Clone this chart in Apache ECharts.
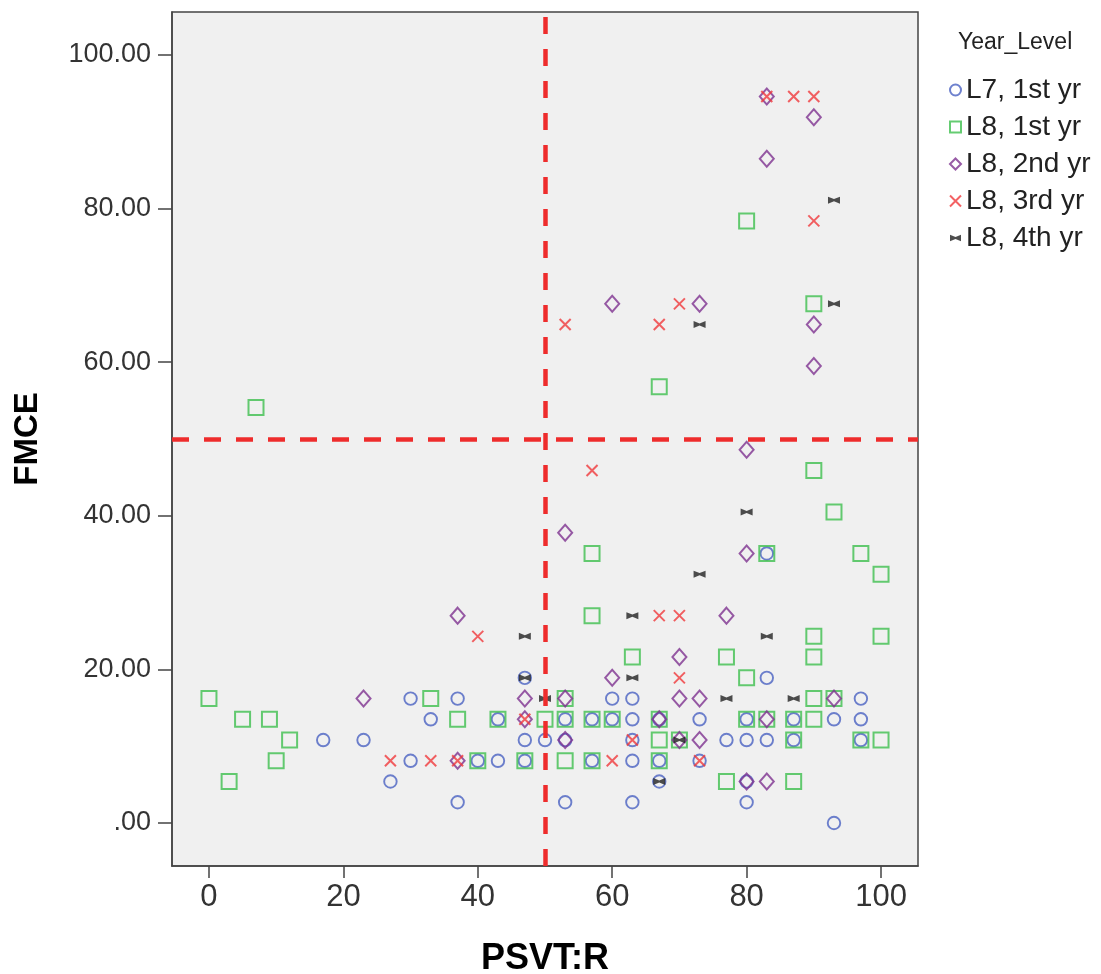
<!DOCTYPE html>
<html>
<head>
<meta charset="utf-8">
<script src="https://cdn.jsdelivr.net/npm/echarts@6/dist/echarts.min.js"></script>
<style>
  html, body { margin: 0; padding: 0; background: #ffffff; }
  #chart { width: 1101px; height: 974px; }
</style>
</head>
<body>
<div id="chart"></div>
<script>
// ---- Data ----
const xTicks = [0, 20, 40, 60, 80, 100];
const yTicks = [0, 20, 40, 60, 80, 100];
const seriesNames = ['L7, 1st yr', 'L8, 1st yr', 'L8, 2nd yr', 'L8, 3rd yr', 'L8, 4th yr'];
const refX = 50;
const refY = 50;

const l7_1st = [[17,10.8],[23,10.8],[27,5.4],[30,16.2],[30,8.1],[33,13.5],[37,16.2],[37,2.7],[40,8.1],
  [43,13.5],[43,8.1],[47,18.9],[47,10.8],[47,8.1],[50,10.8],[53,13.5],[53,10.8],[53,2.7],[57,13.5],[57,8.1],
  [60,16.2],[60,13.5],[63,16.2],[63,13.5],[63,10.8],[63,8.1],[63,2.7],[67,13.5],[67,8.1],[67,5.4],[73,13.5],
  [73,8.1],[77,10.8],[80,13.5],[80,10.8],[80,5.4],[80,2.7],[83,35.1],[83,18.9],[83,10.8],[87,13.5],[87,10.8],
  [93,13.5],[93,0],[97,16.2],[97,13.5],[97,10.8]];

const l8_1st = [[0,16.2],[3,5.4],[5,13.5],[7,54.1],[9,13.5],[10,8.1],[12,10.8],[33,16.2],[37,13.5],[40,8.1],
  [43,13.5],[47,8.1],[50,13.5],[53,16.2],[53,13.5],[53,8.1],[57,35.1],[57,27.0],[57,13.5],[57,8.1],[60,13.5],
  [63,21.6],[67,56.8],[67,13.5],[67,10.8],[67,8.1],[70,10.8],[77,21.6],[77,5.4],[80,78.4],[80,18.9],[80,13.5],
  [83,35.1],[83,13.5],[87,13.5],[87,10.8],[87,5.4],[90,67.6],[90,45.9],[90,24.3],[90,21.6],[90,16.2],[90,13.5],
  [93,40.5],[93,16.2],[97,35.1],[97,10.8],[100,32.4],[100,24.3],[100,10.8]];

const l8_2nd = [[23,16.2],[37,27.0],[37,8.1],[47,16.2],[47,13.5],[53,37.8],[53,16.2],[53,10.8],[60,67.6],
  [60,18.9],[67,13.5],[70,21.6],[70,16.2],[70,10.8],[73,67.6],[73,16.2],[73,10.8],[77,27.0],[80,48.6],[80,35.1],
  [80,5.4],[83,94.6],[83,86.5],[83,13.5],[83,5.4],[90,91.9],[90,64.9],[90,59.5],[93,16.2]];

const l8_3rd = [[27,8.1],[33,8.1],[37,8.1],[40,24.3],[47,13.5],[53,64.9],[57,45.9],[60,8.1],[63,10.8],
  [67,64.9],[67,27.0],[70,67.6],[70,27.0],[70,18.9],[73,8.1],[83,94.6],[87,94.6],[90,94.6],[90,78.4]];

const l8_4th = [[47,24.3],[47,18.9],[50,16.2],[63,27.0],[63,18.9],[67,5.4],[70,10.8],[73,64.9],[73,32.4],
  [77,16.2],[80,40.5],[83,24.3],[87,16.2],[93,81.1],[93,67.6]];

// ---- Styles ----
const FONT = "'Liberation Sans', Arial, sans-serif";
const XPATH = 'path://M0,0L10,10M10,0L0,10';
const BOWTIE = 'path://M0,0L5,2.1L10,0L10,6L5,3.9L0,6Z';

const chart = echarts.init(document.getElementById('chart'), null, { renderer: 'canvas' });

function scatter(name, data, symbol, size, color, hollow, bw) {
  return {
    name: name,
    type: 'scatter',
    data: data,
    symbol: symbol,
    symbolSize: size,
    symbolKeepAspect: false,
    itemStyle: hollow
      ? { color: 'rgba(0,0,0,0)', borderColor: color, borderWidth: bw }
      : { color: color, borderColor: color, borderWidth: 0 },
    emphasis: { disabled: true },
    z: 3
  };
}

const series = [
  scatter(seriesNames[0], l7_1st, 'circle', 12.5, '#4a62c2', true, 1.9),
  scatter(seriesNames[1], l8_1st, 'rect', 15, '#3fbf4f', true, 2),
  scatter(seriesNames[2], l8_2nd, 'diamond', [14, 16], '#7e3290', true, 2),
  scatter(seriesNames[3], l8_3rd, XPATH, 11, '#f0393c', true, 2),
  scatter(seriesNames[4], l8_4th, BOWTIE, [12, 7], '#222222', false, 0)
];

// reference lines
series.push({
  name: 'ref',
  type: 'scatter',
  data: [],
  silent: true,
  markLine: {
    silent: true,
    symbol: ['none', 'none'],
    label: { show: false },
    lineStyle: { color: '#ee2c2c', width: 4.5, type: [17, 15] },
    emphasis: { disabled: true },
    data: [{ xAxis: refX }, { yAxis: refY }]
  },
  z: 2
});

const option = {
  backgroundColor: '#ffffff',
  animation: false,
  textStyle: { fontFamily: FONT },
  title: {
    text: 'Year_Level',
    left: 953,
    top: 26,
    textStyle: { fontFamily: FONT, fontSize: 23, fontWeight: 'normal', color: '#222' }
  },
  legend: {
    orient: 'vertical',
    left: 944,
    top: 71,
    itemWidth: 11,
    itemHeight: 11,
    itemGap: 9,
    itemTextGap: 12,
    data: seriesNames,
    selectedMode: false,
    textStyle: { fontFamily: FONT, fontSize: 28, color: '#222', lineHeight: 28 }
  },
  grid: {
    left: 172,
    right: 183,
    top: 12,
    bottom: 108,
    outerBoundsMode: 'none',
    containLabel: false,
    show: true,
    backgroundColor: '#f0f0f0',
    borderColor: '#444',
    borderWidth: 1.5
  },
  xAxis: {
    type: 'value',
    min: -5.5,
    max: 105.5,
    name: 'PSVT:R',
    nameLocation: 'middle',
    nameGap: 75,
    nameTextStyle: { fontFamily: FONT, fontSize: 36, fontWeight: 'bold', color: '#000' },
    axisLine: { show: true, onZero: false, lineStyle: { color: '#444', width: 1.5 } },
    axisTick: { show: true, length: 12, customValues: xTicks, lineStyle: { color: '#444', width: 1.5 } },
    axisLabel: {
      customValues: xTicks,
      margin: 16,
      fontFamily: "'Liberation Sans Narrow', 'Arial Narrow', " + FONT,
      fontSize: 31,
      color: '#333'
    },
    splitLine: { show: false }
  },
  yAxis: {
    type: 'value',
    min: -5.6,
    max: 105.6,
    name: 'FMCE',
    nameLocation: 'middle',
    nameGap: 128,
    nameRotate: 90,
    nameTextStyle: { fontFamily: FONT, fontSize: 33, fontWeight: 'bold', color: '#000' },
    axisLine: { show: true, onZero: false, lineStyle: { color: '#444', width: 1.5 } },
    axisTick: { show: true, length: 14, customValues: yTicks, lineStyle: { color: '#444', width: 1.5 } },
    axisLabel: {
      customValues: yTicks,
      margin: 21,
      fontFamily: FONT,
      fontSize: 27,
      color: '#333',
      formatter: function (v) { return v === 0 ? '.00' : v.toFixed(2); }
    },
    splitLine: { show: false }
  },
  series: series
};

chart.setOption(option);
</script>
</body>
</html>
